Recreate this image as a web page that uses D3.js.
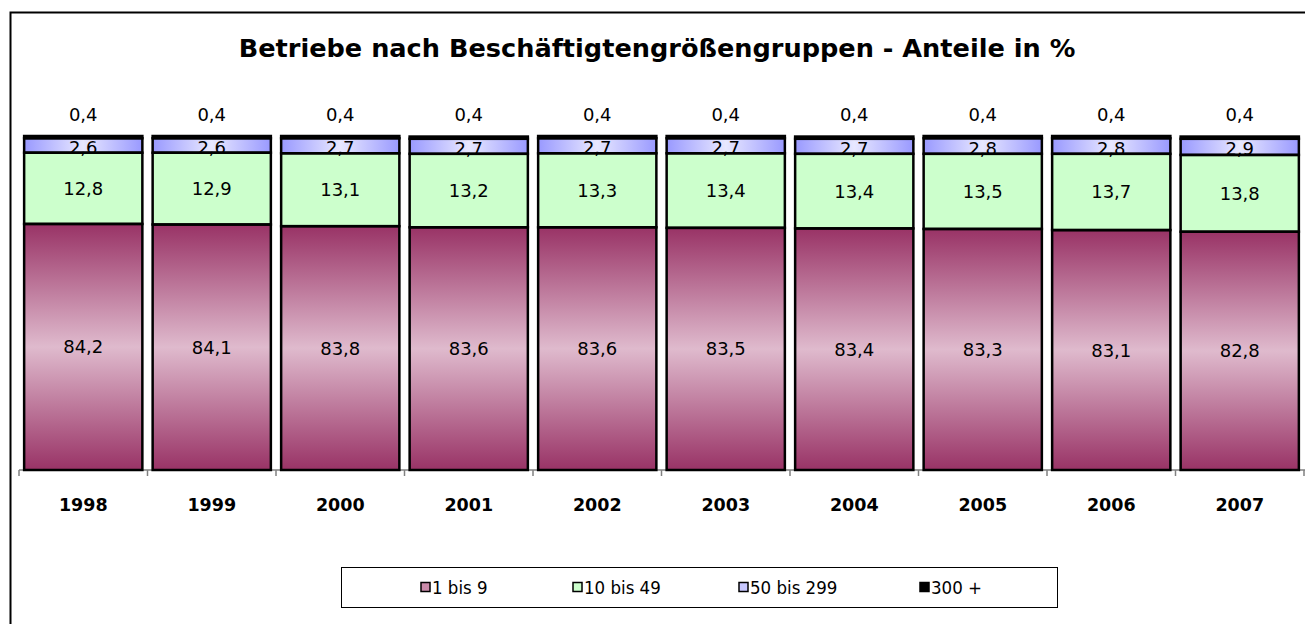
<!DOCTYPE html>
<html>
<head>
<meta charset="utf-8">
<script src="https://cdn.jsdelivr.net/npm/d3@7"></script>
<style>
  body { margin: 0; background: #fff; }
  svg { display: block; font-family: "DejaVu Sans", Verdana, sans-serif; }
</style>
</head>
<body>
<svg id="chart" width="1305" height="624"></svg>
<script>
// data
const years = ["1998", "1999", "2000", "2001", "2002", "2003", "2004", "2005", "2006", "2007"];
const seriesNames = ["1 bis 9", "10 bis 49", "50 bis 299", "300 +"];
const s1bis9 = [84.2, 84.1, 83.8, 83.6, 83.6, 83.5, 83.4, 83.3, 83.1, 82.8];
const s10bis49 = [12.8, 12.9, 13.1, 13.2, 13.3, 13.4, 13.4, 13.5, 13.7, 13.8];
const s50bis299 = [2.6, 2.6, 2.7, 2.7, 2.7, 2.7, 2.7, 2.8, 2.8, 2.9];
const s300plus = [0.4, 0.4, 0.4, 0.4, 0.4, 0.4, 0.4, 0.4, 0.4, 0.4];
// hidden value axis starts at 40 %
const yDomain = [40, 100];

const fmt = v => v.toFixed(1).replace(".", ",");

const rows = years.map((y, i) => ({
    year: y,
    "1 bis 9": s1bis9[i],
    "10 bis 49": s10bis49[i],
    "50 bis 299": s50bis299[i],
    "300 +": s300plus[i]
}));

const svg = d3.select("#chart");

// gradients
const defs = svg.append("defs");
const gMaroon = defs.append("linearGradient").attr("id", "gMaroon")
    .attr("x1", 0).attr("y1", 0).attr("x2", 0).attr("y2", 1);
gMaroon.append("stop").attr("offset", "0%").attr("stop-color", "#993366");
gMaroon.append("stop").attr("offset", "50%").attr("stop-color", "#dfbacd");
gMaroon.append("stop").attr("offset", "100%").attr("stop-color", "#993366");
const gBlue = defs.append("linearGradient").attr("id", "gBlue")
    .attr("x1", 0).attr("y1", 0).attr("x2", 1).attr("y2", 0);
gBlue.append("stop").attr("offset", "0%").attr("stop-color", "#9999ff");
gBlue.append("stop").attr("offset", "50%").attr("stop-color", "#e8e8ff");
gBlue.append("stop").attr("offset", "100%").attr("stop-color", "#9999ff");

const fills = {
    "1 bis 9": "url(#gMaroon)",
    "10 bis 49": "#ccffcc",
    "50 bis 299": "url(#gBlue)",
    "300 +": "#000000"
};
const legendFills = {
    "1 bis 9": "#c98aa9",
    "10 bis 49": "#ccffcc",
    "50 bis 299": "#c8c8ff",
    "300 +": "#000000"
};

// chart frame (only left and top edges visible)
svg.append("path")
    .attr("d", "M10.5,624 V12.5 H1305")
    .attr("fill", "none")
    .attr("stroke", "#000")
    .attr("stroke-width", 2);

// title
svg.append("text")
    .attr("x", 657)
    .attr("y", 57)
    .attr("text-anchor", "middle")
    .attr("font-size", "25.6px")
    .attr("font-weight", "bold")
    .text("Betriebe nach Beschäftigtengrößengruppen - Anteile in %");

// scales
const x = d3.scaleBand().domain(years).range([19, 1304]).padding(0);
const y = d3.scaleLinear().domain(yDomain).range([470, 136]);
const barW = x.bandwidth() * 0.92;
const barX = d => x(d.data.year) + (x.bandwidth() - barW) / 2;
const y0 = d => y(Math.max(d[0], yDomain[0]));

const stack = d3.stack().keys(seriesNames);
const series = stack(rows);

// x axis
const xAxis = svg.append("g")
    .attr("transform", "translate(0,470)");
xAxis.append("line")
    .attr("x1", 19).attr("x2", 1305)
    .attr("stroke", "#808080").attr("stroke-width", 1.5);
xAxis.selectAll("line.tick")
    .data(years.concat(["end"]))
    .join("line")
    .attr("class", "tick")
    .attr("x1", (d, i) => 19 + i * x.step())
    .attr("x2", (d, i) => 19 + i * x.step())
    .attr("y1", 0).attr("y2", 6)
    .attr("stroke", "#808080").attr("stroke-width", 1.5);
xAxis.selectAll("text")
    .data(years)
    .join("text")
    .attr("x", d => x(d) + x.bandwidth() / 2)
    .attr("y", 41)
    .attr("text-anchor", "middle")
    .attr("font-size", "17.5px")
    .attr("font-weight", "bold")
    .text(d => d);

// segments (fill)
const layers = svg.append("g");
layers.selectAll("g")
    .data(series)
    .join("g")
    .attr("fill", d => fills[d.key])
    .selectAll("rect")
    .data(d => d)
    .join("rect")
    .attr("x", barX)
    .attr("y", d => y(d[1]))
    .attr("width", barW)
    .attr("height", d => y0(d) - y(d[1]));

// value labels inside the segments
const labels = svg.append("g")
    .attr("text-anchor", "middle")
    .attr("font-size", "18px")
    .attr("fill", "#000");
series.slice(0, 3).forEach((s, k) => {
    labels.selectAll(null)
        .data(s)
        .join("text")
        .attr("x", d => barX(d) + barW / 2)
        .attr("y", d => (y0(d) + y(d[1])) / 2 + (k === 2 ? 2 : 0))
        .attr("dy", "0.36em")
        .text(d => fmt(d[1] - d[0]));
});
// labels of the top segment, above the bars
labels.selectAll(null)
    .data(series[3])
    .join("text")
    .attr("x", d => barX(d) + barW / 2)
    .attr("y", 115)
    .attr("dy", "0.36em")
    .text(d => fmt(d[1] - d[0]));

// segment borders drawn on top
svg.append("g")
    .selectAll("g")
    .data(series)
    .join("g")
    .selectAll("rect")
    .data(d => d)
    .join("rect")
    .attr("x", barX)
    .attr("y", d => y(d[1]))
    .attr("width", barW)
    .attr("height", d => y0(d) - y(d[1]))
    .attr("fill", "none")
    .attr("stroke", "#000")
    .attr("stroke-width", 2.5);

// legend
const legend = svg.append("g");
legend.append("rect")
    .attr("x", 341.5).attr("y", 567.5)
    .attr("width", 716).attr("height", 40)
    .attr("fill", "#fff")
    .attr("stroke", "#000")
    .attr("stroke-width", 1);
const legendX = [421, 573, 739, 920];
const items = legend.selectAll("g.item")
    .data(seriesNames)
    .join("g")
    .attr("class", "item")
    .attr("transform", (d, i) => `translate(${legendX[i]},587)`);
items.append("rect")
    .attr("x", 0).attr("y", -4.5)
    .attr("width", 9).attr("height", 9)
    .attr("fill", d => legendFills[d])
    .attr("stroke", "#000")
    .attr("stroke-width", 1.5);
items.append("text")
    .attr("x", 11)
    .attr("dy", "0.36em")
    .attr("font-family", "'DejaVu Sans Condensed', 'Liberation Sans Narrow', sans-serif")
    .attr("font-size", "18.5px")
    .text(d => d);
</script>
</body>
</html>
